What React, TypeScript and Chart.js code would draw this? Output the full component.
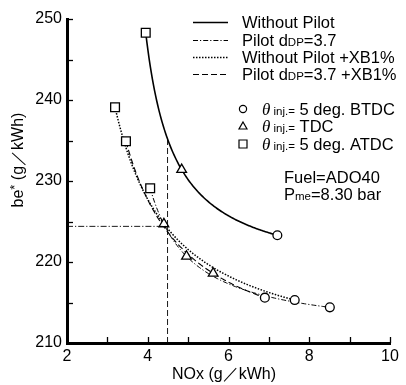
import React, { useEffect, useRef } from "react";
import { Chart, registerables } from "chart.js";
Chart.register(...registerables);

// ---- data ----
const xTickValues = [2, 4, 6, 8, 10];
const yTickValues = [210, 220, 230, 240, 250];
const markerStyles = ["rect", "triangle", "circle"]; // ATDC, TDC, BTDC
const markerRadii = [6.2, 5.6, 4.4];

const woPilotNOx = [3.95, 4.84, 7.21];
const woPilotBe = [248.3, 231.4, 223.3];
const pilotNOx = [4.06, 4.96, 8.51];
const pilotBe = [229.1, 220.7, 214.4];
const woPilotXBNOx = [3.19, 4.4, 7.64];
const woPilotXBBe = [239.1, 224.7, 215.3];
const pilotXBNOx = [3.46, 5.62, 6.9];
const pilotXBBe = [234.9, 218.6, 215.6];

const refNOx = 4.49;
const refBe = 224.4;
const refBeTop = 235.1;

const FONT = "'Liberation Sans', Arial, Helvetica, sans-serif";

const pts = (xs: number[], ys: number[]) => xs.map((x, i) => ({ x, y: ys[i] }));

const seriesDataset = (label: string, xs: number[], ys: number[], dash: number[], width: number) => ({
  label,
  data: pts(xs, ys),
  curveStyle: { dash, width },
  borderColor: "#000",
  backgroundColor: "#fff",
  pointStyle: markerStyles,
  pointRadius: markerRadii,
  pointBorderColor: "#000",
  pointBackgroundColor: "#fff",
  pointBorderWidth: 1.3,
  showLine: false,
});

// smooth trade-off curve through the three measured points of each series
const curvePlugin = {
  id: "curves",
  beforeDatasetsDraw(chart: any) {
    const ctx: CanvasRenderingContext2D = chart.ctx;
    const xs = chart.scales.x;
    const ys = chart.scales.y;
    const ca = chart.chartArea;
    ctx.save();
    ctx.beginPath();
    ctx.rect(ca.left, ca.top, ca.right - ca.left, ca.bottom - ca.top);
    ctx.clip();
    ctx.strokeStyle = "#000";
    chart.data.datasets.forEach((ds: any) => {
      if (!ds.curveStyle) return;
      const d = ds.data;
      const [p0, p1, p2] = d;
      const R = ((p0.y - p1.y) * (p2.x - p1.x)) / ((p1.y - p2.y) * (p1.x - p0.x));
      let f: (x: number) => number;
      if (isFinite(R) && R > 1.0001) {
        const c = (p2.x - R * p0.x) / (1 - R);
        const b = ((p0.y - p1.y) * (p0.x - c) * (p1.x - c)) / (p1.x - p0.x);
        const a = p0.y - b / (p0.x - c);
        f = (x) => a + b / (x - c);
      } else {
        f = (x) => (x <= p1.x ? p0.y + ((p1.y - p0.y) * (x - p0.x)) / (p1.x - p0.x) : p1.y + ((p2.y - p1.y) * (x - p1.x)) / (p2.x - p1.x));
      }
      ctx.lineWidth = ds.curveStyle.width;
      ctx.setLineDash(ds.curveStyle.dash);
      ctx.beginPath();
      const n = 120;
      for (let i = 0; i <= n; i++) {
        const x = p0.x + ((p2.x - p0.x) * i) / n;
        const px = xs.getPixelForValue(x);
        const py = ys.getPixelForValue(f(x));
        if (i === 0) ctx.moveTo(px, py);
        else ctx.lineTo(px, py);
      }
      ctx.stroke();
    });
    ctx.setLineDash([]);
    ctx.restore();
  },
};

const overlayPlugin = {
  id: "overlay",
  afterDraw(chart: any) {
    const ctx: CanvasRenderingContext2D = chart.ctx;
    const xs = chart.scales.x;
    const ys = chart.scales.y;
    const ca = chart.chartArea;
    ctx.save();
    ctx.strokeStyle = "#000";
    ctx.fillStyle = "#000";
    // inside ticks
    ctx.lineWidth = 1.3;
    for (let v = 2; v <= 10; v += 1) {
      const px = Math.round(xs.getPixelForValue(v)) + 0.5;
      ctx.beginPath();
      ctx.moveTo(px, ca.bottom);
      ctx.lineTo(px, ca.bottom - 6);
      ctx.stroke();
    }
    for (let v = 210; v <= 250; v += 5) {
      const py = Math.round(ys.getPixelForValue(v)) + 0.5;
      ctx.beginPath();
      ctx.moveTo(ca.left, py);
      ctx.lineTo(ca.left + 6, py);
      ctx.stroke();
    }

    const drawParts = (parts: { t: string; f: string; dy?: number }[], x: number, y: number) => {
      let cx = x;
      for (const p of parts) {
        ctx.font = p.f;
        ctx.fillText(p.t, cx, y + (p.dy || 0));
        cx += ctx.measureText(p.t).width;
      }
      return cx;
    };
    const big = `16.5px ${FONT}`;
    const small = `11.5px ${FONT}`;
    ctx.textBaseline = "alphabetic";
    ctx.textAlign = "left";

    // line legend
    const rows = [
      { y: 22, dash: [] as number[], w: 1.6, parts: [{ t: "Without Pilot", f: big }] },
      { y: 40, dash: [5, 2, 1.2, 2], w: 1, parts: [{ t: "Pilot d", f: big }, { t: "DP", f: small }, { t: "=3.7", f: big }] },
      { y: 57, dash: [1.5, 1.5], w: 1.4, parts: [{ t: "Without Pilot +XB1%", f: big }] },
      { y: 74, dash: [6, 3], w: 1, parts: [{ t: "Pilot d", f: big }, { t: "DP", f: small }, { t: "=3.7 +XB1%", f: big }] },
    ];
    for (const r of rows) {
      ctx.lineWidth = r.w;
      ctx.setLineDash(r.dash);
      ctx.beginPath();
      ctx.moveTo(193, r.y + 0.5);
      ctx.lineTo(228, r.y + 0.5);
      ctx.stroke();
      ctx.setLineDash([]);
      drawParts(r.parts, 242, r.y + 6);
    }

    // marker legend
    const theta = `italic 17px 'Liberation Serif', 'DejaVu Serif', serif`;
    const mRows = [
      { y: 109, s: "circle", txt: "5 deg. BTDC" },
      { y: 126, s: "triangle", txt: "TDC" },
      { y: 144, s: "rect", txt: "5 deg. ATDC" },
    ];
    ctx.lineWidth = 1.2;
    for (const m of mRows) {
      ctx.beginPath();
      if (m.s === "circle") {
        ctx.arc(243, m.y, 3.6, 0, Math.PI * 2);
      } else if (m.s === "triangle") {
        ctx.moveTo(243, m.y - 4);
        ctx.lineTo(247, m.y + 3);
        ctx.lineTo(239, m.y + 3);
        ctx.closePath();
      } else {
        ctx.rect(239, m.y - 4, 8, 8);
      }
      ctx.stroke();
      drawParts(
        [
          { t: "θ", f: theta },
          { t: " inj.=", f: small },
          { t: " " + m.txt, f: big },
        ],
        262,
        m.y + 6
      );
    }

    // fuel text
    drawParts([{ t: "Fuel=ADO40", f: big }], 284, 183);
    drawParts([{ t: "P", f: big }, { t: "me", f: small }, { t: "=8.30 bar", f: big }], 284, 200);

    // axis titles
    ctx.font = `16px ${FONT}`;
    ctx.textAlign = "center";
    ctx.fillText("NOx (g／kWh)", 224, 379);

    ctx.save();
    ctx.translate(23, 160);
    ctx.rotate(-Math.PI / 2);
    ctx.textAlign = "left";
    const p1 = "be";
    const p2 = "*";
    const p3 = " (g／kWh)";
    ctx.font = `16px ${FONT}`;
    const w1 = ctx.measureText(p1).width;
    const w3 = ctx.measureText(p3).width;
    ctx.font = `13px ${FONT}`;
    const w2 = ctx.measureText(p2).width;
    const total = w1 + w2 + w3;
    let cx = -total / 2;
    ctx.font = `16px ${FONT}`;
    ctx.fillText(p1, cx, 0);
    cx += w1;
    ctx.font = `13px ${FONT}`;
    ctx.fillText(p2, cx, -4);
    cx += w2;
    ctx.font = `16px ${FONT}`;
    ctx.fillText(p3, cx, 0);
    ctx.restore();

    ctx.restore();
  },
};

export default function App() {
  const ref = useRef<HTMLCanvasElement | null>(null);
  useEffect(() => {
    document.body.style.margin = "0";
    const canvas = ref.current;
    if (!canvas) return;
    const chart = new Chart(canvas, {
      type: "scatter",
      data: {
        datasets: [
          {
            label: "ref-h",
            data: [
              { x: 2, y: refBe },
              { x: refNOx, y: refBe },
            ],
            borderColor: "#000",
            borderWidth: 0.9,
            borderDash: [6, 2, 1.2, 2],
            pointRadius: 0,
            showLine: true,
          } as any,
          {
            label: "ref-v",
            data: [
              { x: refNOx, y: 210 },
              { x: refNOx, y: refBeTop },
            ],
            borderColor: "#000",
            borderWidth: 0.9,
            borderDash: [6, 3],
            pointRadius: 0,
            showLine: true,
          } as any,
          seriesDataset("Pilot dDP=3.7", pilotNOx, pilotBe, [5, 2, 1.2, 2], 1),
          seriesDataset("Pilot dDP=3.7 +XB1%", pilotXBNOx, pilotXBBe, [6, 3], 1.1),
          seriesDataset("Without Pilot +XB1%", woPilotXBNOx, woPilotXBBe, [1.5, 1.5], 1.5),
          seriesDataset("Without Pilot", woPilotNOx, woPilotBe, [], 1.6),
        ] as any,
      },
      options: {
        animation: false,
        responsive: false,
        layout: { padding: { top: 19, right: 16, left: 0, bottom: 0 } },
        plugins: { legend: { display: false }, tooltip: { enabled: false } },
        scales: {
          x: {
            type: "linear",
            min: 2,
            max: 10,
            afterBuildTicks: (s: any) => {
              s.ticks = xTickValues.map((v) => ({ value: v }));
            },
            afterFit: (s: any) => {
              s.height = 42;
            },
            grid: { display: false, drawTicks: false },
            border: { display: true, width: 3, color: "#000" },
            ticks: { color: "#000", font: { family: FONT, size: 16 }, padding: 4, maxRotation: 0 },
          },
          y: {
            type: "linear",
            min: 210,
            max: 250,
            afterBuildTicks: (s: any) => {
              s.ticks = yTickValues.map((v) => ({ value: v }));
            },
            afterFit: (s: any) => {
              s.width = 67;
            },
            grid: { display: false, drawTicks: false },
            border: { display: true, width: 3, color: "#000" },
            ticks: { color: "#000", font: { family: FONT, size: 16 }, padding: 5 },
          },
        },
      } as any,
      plugins: [curvePlugin, overlayPlugin],
    });
    return () => chart.destroy();
  }, []);
  return (
    <div style={{ width: 406, height: 385, background: "#fff" }}>
      <canvas ref={ref} width={406} height={385} style={{ display: "block" }} />
    </div>
  );
}
